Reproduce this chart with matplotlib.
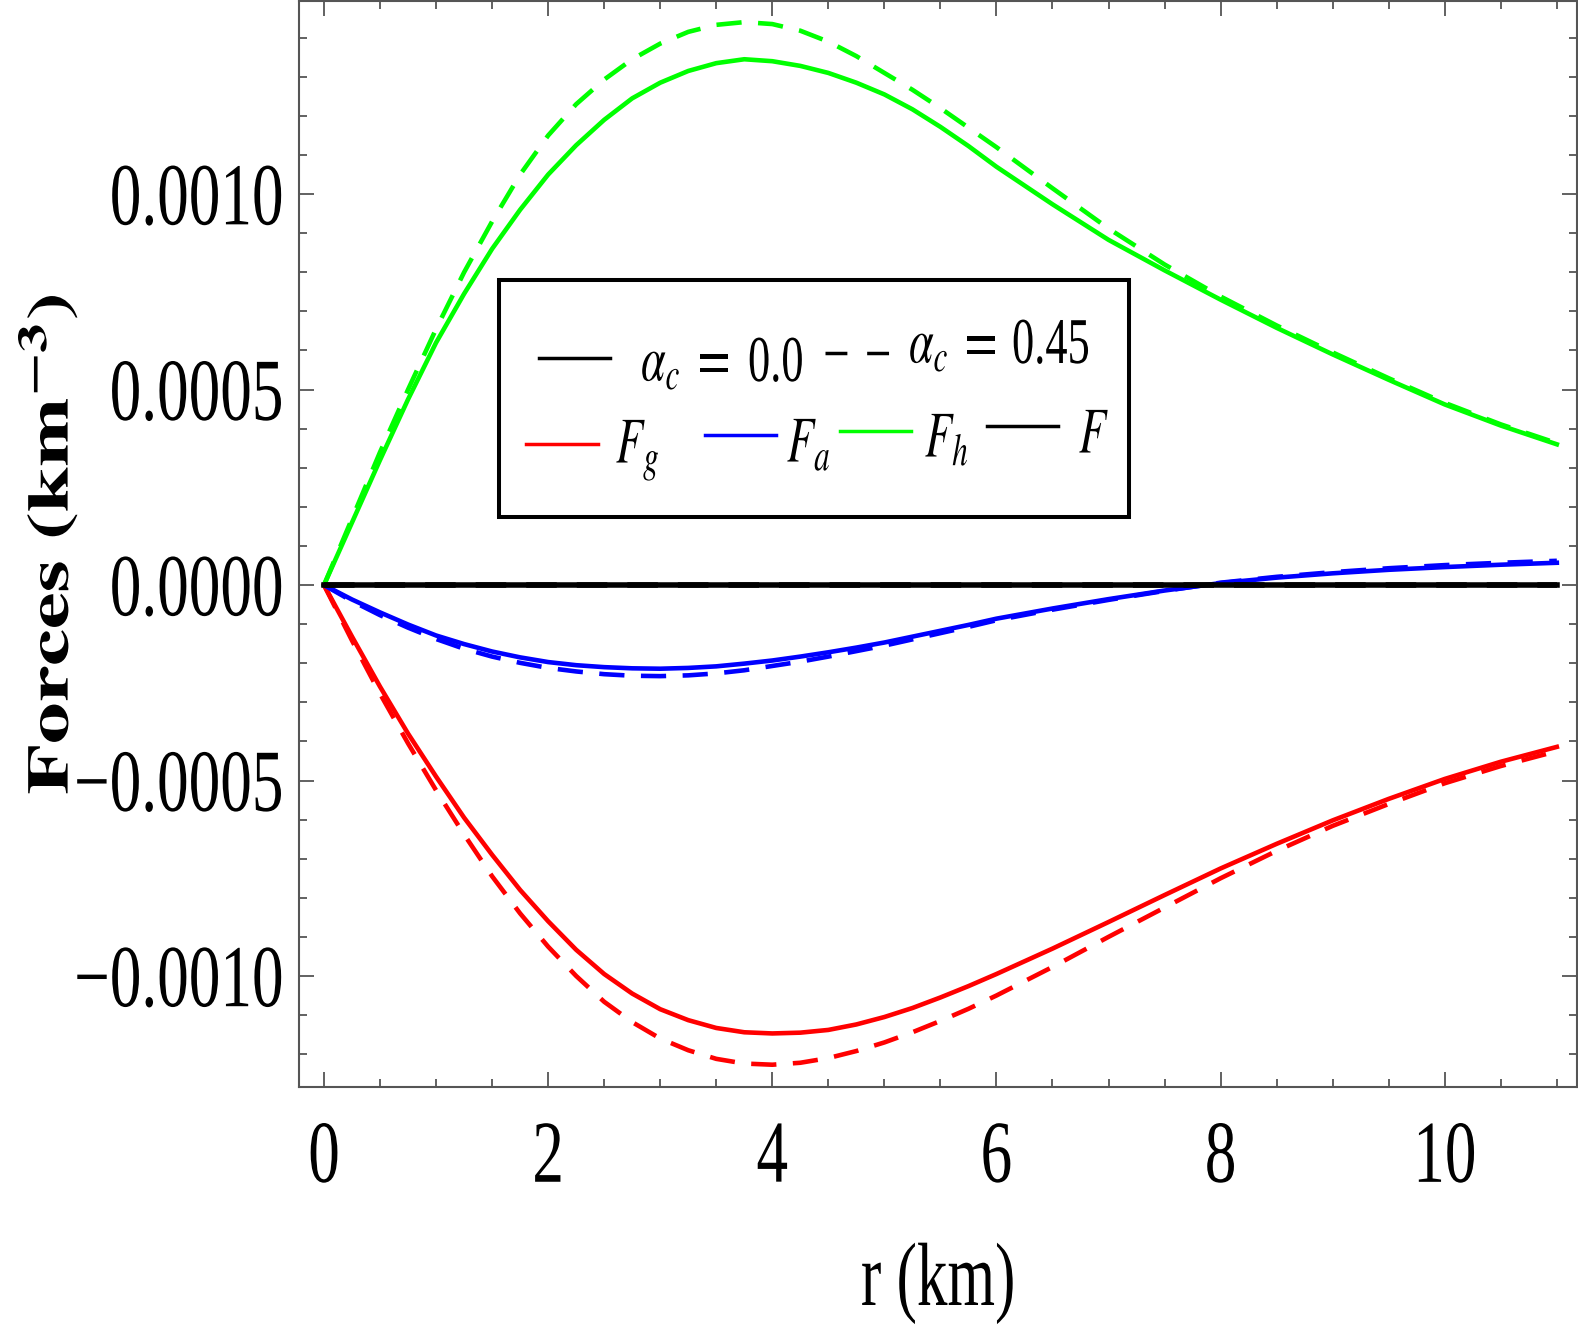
import matplotlib
matplotlib.use("Agg")
import matplotlib.pyplot as plt                      # noqa: E402
from matplotlib.lines import Line2D                  # noqa: E402
from matplotlib.patches import Rectangle             # noqa: E402
from matplotlib.patheffects import AbstractPathEffect  # noqa: E402
from matplotlib.ticker import MultipleLocator        # noqa: E402
from matplotlib.transforms import Affine2D           # noqa: E402

W, H = 1578, 1328

# radius (km) and forces in units of 1e-4 km^-3
R_KM = [0, 0.25, 0.5, 0.75, 1, 1.25, 1.5, 1.75, 2, 2.25, 2.5, 2.75, 3,
        3.25, 3.5, 3.75, 4, 4.25, 4.5, 4.75, 5, 5.25, 5.5, 5.75, 6,
        6.5, 7, 7.5, 8, 8.5, 9, 9.5, 10, 10.5, 11]

FG_A0 = [0, -1.32, -2.6, -3.8, -4.9, -5.95, -6.9, -7.8, -8.6, -9.33, -9.95,
         -10.45, -10.85, -11.13, -11.33, -11.44, -11.47, -11.45, -11.38,
         -11.24, -11.05, -10.82, -10.55, -10.26, -9.95,
         -9.3, -8.62, -7.93, -7.25, -6.62, -6.02, -5.47, -4.96, -4.52, -4.14]
FG_A45 = [0, -1.42, -2.78, -4.05, -5.25, -6.38, -7.45, -8.4, -9.25, -10.0,
          -10.66, -11.18, -11.6, -11.9, -12.12, -12.24, -12.27, -12.22,
          -12.1, -11.92, -11.7, -11.44, -11.15, -10.84, -10.5,
          -9.77, -9.0, -8.25, -7.5, -6.8, -6.16, -5.6, -5.07, -4.63, -4.25]

FA_A0 = [0, -0.37, -0.7, -1.01, -1.29, -1.51, -1.7, -1.85, -1.97, -2.05,
         -2.1, -2.13, -2.14, -2.12, -2.08, -2.01, -1.93, -1.83, -1.72, -1.6,
         -1.47, -1.32, -1.17, -1.02, -0.86,
         -0.6, -0.36, -0.14, 0.05, 0.19, 0.3, 0.39, 0.46, 0.52, 0.57]
FA_A45 = [0, -0.41, -0.77, -1.09, -1.38, -1.63, -1.83, -1.99, -2.12, -2.21,
          -2.28, -2.32, -2.33, -2.31, -2.26, -2.18, -2.07, -1.96, -1.83,
          -1.69, -1.55, -1.39, -1.23, -1.07, -0.9,
          -0.63, -0.38, -0.15, 0.06, 0.21, 0.33, 0.43, 0.51, 0.57, 0.62]

FH_A0 = [0, 1.6, 3.2, 4.75, 6.2, 7.45, 8.6, 9.6, 10.5, 11.25, 11.9, 12.45,
         12.85, 13.15, 13.35, 13.45, 13.4, 13.28, 13.1, 12.85, 12.55, 12.17,
         11.72, 11.23, 10.7,
         9.74, 8.83, 8.05, 7.3, 6.58, 5.9, 5.25, 4.62, 4.08, 3.6]
FH_A45 = [0, 1.7, 3.4, 5.0, 6.55, 8.0, 9.3, 10.5, 11.5, 12.3, 12.93, 13.45,
          13.85, 14.15, 14.33, 14.4, 14.35, 14.18, 13.9, 13.53, 13.1, 12.67,
          12.2, 11.7, 11.2,
          10.15, 9.12, 8.2, 7.38, 6.64, 5.95, 5.29, 4.66, 4.11, 3.63]

F_A0 = [0] * len(R_KM)
F_A45 = [0] * len(R_KM)

UNIT = 1e-4

XTICKS = [0, 2, 4, 6, 8, 10]
XTICK_LABELS = ["0", "2", "4", "6", "8", "10"]
YTICKS = [-0.0010, -0.0005, 0.0, 0.0005, 0.0010]
YTICK_LABELS = ["\u22120.0010", "\u22120.0005", "0.0000", "0.0005", "0.0010"]

SERIES = [("red", FG_A0, FG_A45, "$F_g$", 3.3),
          ("blue", FA_A0, FA_A45, "$F_a$", 3.3),
          ("#00ff00", FH_A0, FH_A45, "$F_h$", 3.3),
          ("black", F_A0, F_A45, "$F$", 4.0)]

FRAME = "#555555"
DASH = (5.5, 3.6)

# axes frame in pixels of the output image
AX_L, AX_R, AX_T, AX_B = 299, 1577, 1, 1087


class Stretch(AbstractPathEffect):
    # the source image was resized non-uniformly, so glyphs are tall/narrow
    def __init__(self, sx=1.0, sy=1.0, hx="center", vy="center"):
        super().__init__()
        self.sx, self.sy, self.hx, self.vy = sx, sy, hx, vy

    def draw_path(self, renderer, gc, tpath, affine, rgbFace=None):
        ext = tpath.get_extents()
        px = {"left": ext.x0, "center": (ext.x0 + ext.x1) / 2,
              "right": ext.x1}[self.hx]
        py = {"baseline": 0.0, "center": (ext.y0 + ext.y1) / 2,
              "top": ext.y1}[self.vy]
        t = Affine2D().translate(-px, -py).scale(self.sx, self.sy)
        t = t.translate(px, py)
        renderer.draw_path(gc, tpath, t + affine, rgbFace)


def fx(px):
    return px / W


def fy(py):
    return 1 - py / H


plt.rcParams["font.family"] = "Liberation Serif"
plt.rcParams["mathtext.fontset"] = "stix"

fig = plt.figure(figsize=(W / 100, H / 100), dpi=100)
ax = fig.add_axes([fx(AX_L), fy(AX_B), (AX_R - AX_L) / W, (AX_B - AX_T) / H])

for color, a0, a45, _, lw in SERIES:
    ax.plot(R_KM, [v * UNIT for v in a0], color=color, lw=lw)
    ax.plot(R_KM, [v * UNIT for v in a45], color=color, lw=lw, dashes=DASH)

ax.set_xlim(-0.223, 11.18)
ax.set_ylim(-0.001284, 0.001494)

ax.set_xticks(XTICKS)
ax.set_xticklabels(XTICK_LABELS)
ax.set_yticks(YTICKS)
ax.set_yticklabels(YTICK_LABELS)
ax.xaxis.set_minor_locator(MultipleLocator(0.5))
ax.yaxis.set_minor_locator(MultipleLocator(0.0001))
ax.tick_params(which="both", direction="in", top=True, right=True,
               color=FRAME, width=1.3)
ax.tick_params(which="major", length=11)
ax.tick_params(which="minor", length=6)
ax.tick_params(axis="x", which="major", labelsize=45.5, pad=24.5)
ax.tick_params(axis="y", which="major", labelsize=45.5, pad=11.5)
for sp in ax.spines.values():
    sp.set_color(FRAME)
    sp.set_linewidth(1.5)

for lab in ax.get_xticklabels():
    lab.set_path_effects([Stretch(sy=1.40, hx="center", vy="top")])
for lab in ax.get_yticklabels():
    lab.set_path_effects([Stretch(sy=1.40, hx="right", vy="center")])

ax.set_xlabel("r (km)", fontsize=44, va="baseline",
              path_effects=[Stretch(sy=1.47, vy="baseline")])
ax.xaxis.set_label_coords(0.5, (AX_B - 1305) / (AX_B - AX_T))
ax.set_ylabel(r"$\mathbf{Forces\ (km^{-3})}$", fontsize=42, va="center",
              path_effects=[Stretch(sx=1.42, sy=1.0)])
ax.yaxis.set_label_coords(-(AX_L - 48) / (AX_R - AX_L), 0.5)

# legend, drawn by hand: Mathematica's two-row layout
fig.add_artist(Rectangle((fx(499), fy(517)), (1129 - 499) / W,
                         (517 - 280) / H, transform=fig.transFigure,
                         facecolor="white", edgecolor="black", lw=2.9,
                         zorder=5))
leg_fx = [Stretch(sy=1.47, hx="left", vy="baseline")]


def leg_line(x0, x1, y, color, **kw):
    fig.add_artist(Line2D([fx(x0), fx(x1)], [fy(y), fy(y)],
                          transform=fig.transFigure, color=color, lw=2.5,
                          zorder=6, **kw))


def leg_text(x, y, s, size=32):
    fig.text(fx(x), fy(y), s, fontsize=size, ha="left", va="baseline",
             zorder=6, path_effects=leg_fx)


# mathtext pads "=" with relation spacing, hence the smaller x below
leg_line(539, 610, 358, "black")
leg_text(641, 381, r"$\alpha_c$")
leg_text(691, 381, "$=$", size=34)
leg_text(748, 381, "0.0")
leg_line(825, 889, 353, "black", dashes=(6.3, 5.7))
leg_text(909, 363, r"$\alpha_c$")
leg_text(958, 363, "$=$", size=34)
leg_text(1012, 363, "0.45")

rows = [(526, 598, 444, 616, 463),
        (705, 776, 435, 787, 462),
        (840, 911, 431, 925, 457),
        (987, 1058, 426, 1079, 453)]
for (color, _, _, name, _), (x0, x1, yl, xt, yt) in zip(SERIES, rows):
    leg_line(x0, x1, yl, color)
    leg_text(xt, yt, name)

fig.savefig("out.png", dpi=100)
